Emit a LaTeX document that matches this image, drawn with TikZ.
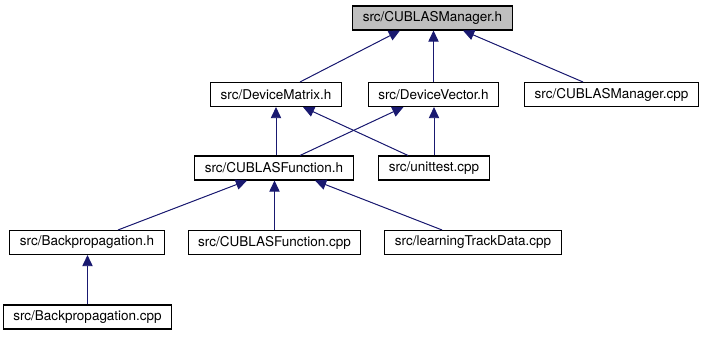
\documentclass[tikz,border=0pt]{standalone}
\usepackage{fontspec}
\setmainfont{TeX Gyre Heros}
\usetikzlibrary{arrows.meta,calc}
\definecolor{edgeblue}{HTML}{191970}
\definecolor{curgray}{HTML}{BFBFBF}
\begin{document}
\begin{tikzpicture}[
		x=0.025cm, y=-0.025cm,
		font=\fontsize{9.6}{11}\selectfont,
		file/.style={rectangle, draw, line width=0.75pt, fill=white, minimum height=0.6cm, inner xsep=0.25cm, inner ysep=0pt},
		current/.style={file, fill=curgray},
		dep/.style={-{Triangle[length=0.28cm, width=0.26cm]}, draw=edgeblue, fill=edgeblue, line width=0.7pt}
	]
		\useasboundingbox (0,0) rectangle (704,336);
		\node[current] (mgr) at (432.5,18) {src/CUBLASManager.h};
		\node[file] (matrix) at (276,94.5) {src/DeviceMatrix.h};
		\node[file] (vector) at (433.5,94.5) {src/DeviceVector.h};
		\node[file] (mgrcpp) at (611.5,94.5) {src/CUBLASManager.cpp};
		\node[file] (cfh) at (274,168) {src/CUBLASFunction.h};
		\node[file] (unittest) at (434,168) {src/unittest.cpp};
		\node[file] (bph) at (87,242.5) {src/Backpropagation.h};
		\node[file] (cfcpp) at (274.5,242.5) {src/CUBLASFunction.cpp};
		\node[file] (ltd) at (473,242.5) {src/learningTrackData.cpp};
		\node[file] (bpcpp) at (87.5,317) {src/Backpropagation.cpp};
		% includes, arrow points at the included header
		\draw[dep] ($(matrix.north)+(24,0)$) -- ($(mgr.south)+(-32.5,0)$);
		\draw[dep] (vector.north) -- (vector.north |- mgr.south);
		\draw[dep] ($(mgrcpp.north)+(-28.5,0)$) -- ($(mgr.south)+(30.5,0)$);
		\draw[dep] (matrix.south |- cfh.north) -- (matrix.south);
		\draw[dep] ($(cfh.north)+(26,0)$) -- ($(vector.south)+(-30,0)$);
		\draw[dep] ($(unittest.north)+(-26,0)$) -- ($(matrix.south)+(27,0)$);
		\draw[dep] (unittest.north) -- (unittest.north |- vector.south);
		\draw[dep] ($(bph.north)+(31,0)$) -- ($(cfh.south)+(-27,0)$);
		\draw[dep] (cfcpp.north) -- (cfcpp.north |- cfh.south);
		\draw[dep] ($(ltd.north)+(-31,0)$) -- ($(cfh.south)+(41,0)$);
		\draw[dep] (bpcpp.north) -- (bpcpp.north |- bph.south);
	\end{tikzpicture}
\end{document}
